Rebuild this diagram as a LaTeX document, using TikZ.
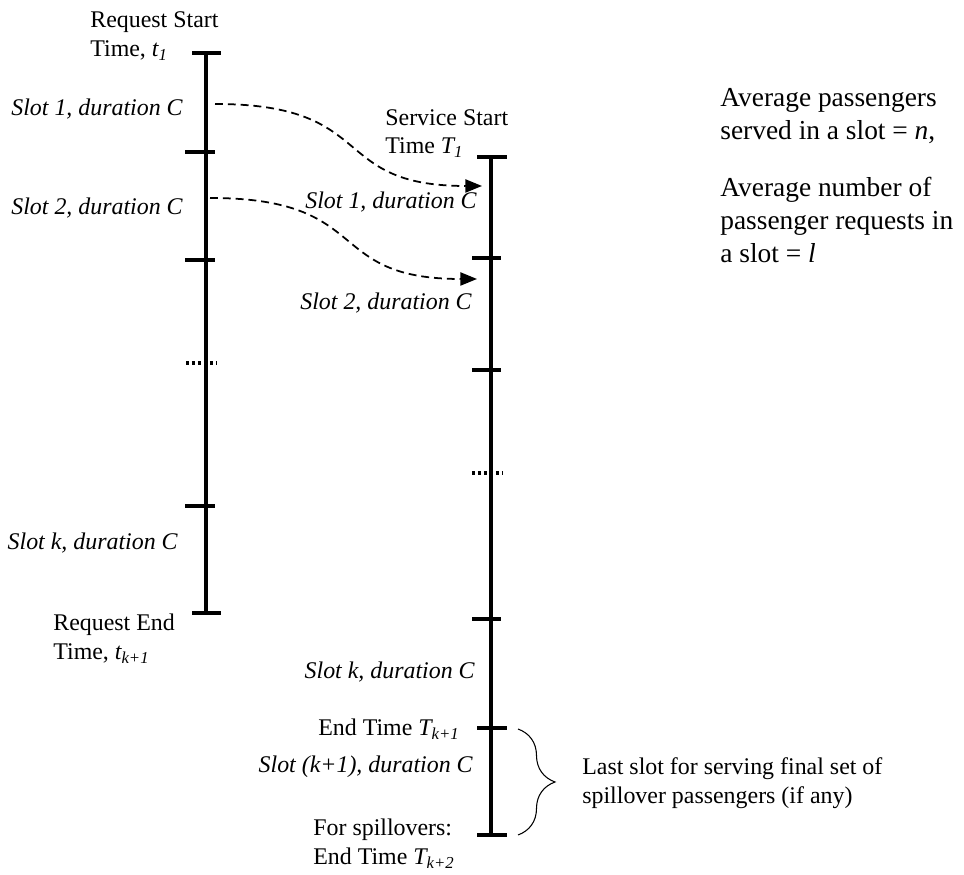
\documentclass[tikz,border=0pt]{standalone}
\usepackage{fontspec}
\setmainfont{Liberation Serif}
\usetikzlibrary{arrows.meta,decorations.pathreplacing}

\begin{document}
\begin{tikzpicture}[font=\fontsize{13.6}{16.5}\selectfont,
    timeline/.style={line width=2.2pt},
    tickmark/.style={line width=1.8pt},
    gap/.style={line width=1.8pt, dash pattern=on 1.7pt off 1.7pt},
    slot/.style={font=\fontsize{13.6}{16.5}\selectfont\itshape, inner sep=0pt, anchor=east},
    note/.style={align=left, inner sep=0pt, anchor=west},
    flow/.style={line width=1pt, dash pattern=on 4.5pt off 2.8pt, -{Triangle[length=9.5pt,width=7.5pt]}}]
    \useasboundingbox (0,0) rectangle (19.28,17.5);

    % Request timeline on left
    \coordinate (rtop) at (4.12,16.44);
    \coordinate (rbot) at (4.12,5.24);
    \draw[timeline] (rtop) -- (rbot);
    \foreach \y in {16.44,5.24} \draw[tickmark] (3.84,\y) -- (4.42,\y);
    \foreach \y in {14.46,12.30,7.38} \draw[tickmark] (3.70,\y) -- (4.30,\y);
    \draw[gap] (3.72,10.24) -- (4.34,10.24);

    \node[note] (reqstart) at (1.80,16.78) {Request Start\\Time, \textit{t\textsubscript{1}}};
    \node[slot] (rslot1) at (3.66,15.32) {Slot 1, duration C};
    \node[slot] (rslot2) at (3.66,13.34) {Slot 2, duration C};
    \node[slot] (rslotk) at (3.56,6.64) {Slot k, duration C};
    \node[note] (reqend) at (1.06,4.72) {Request End\\Time, \textit{t\textsubscript{k+1}}};

    % Service timeline on right
    \coordinate (stop) at (9.82,14.36);
    \coordinate (sbot) at (9.82,0.80);
    \draw[timeline] (stop) -- (sbot);
    \foreach \y in {14.36,2.94,0.80} \draw[tickmark] (9.54,\y) -- (10.14,\y);
    \foreach \y in {12.34,10.10,5.12} \draw[tickmark] (9.44,\y) -- (10.02,\y);
    \draw[gap] (9.44,8.04) -- (10.04,8.04);

    \node[note] (srvstart) at (7.70,14.83) {Service Start\\Time \textit{T\textsubscript{1}}};
    \node[slot] (sslot1) at (9.54,13.46) {Slot 1, duration C};
    \node[slot] (sslot2) at (9.44,11.44) {Slot 2, duration C};
    \node[slot] (sslotk) at (9.50,4.06) {Slot k, duration C};
    \node[anchor=east, inner sep=0pt] (endtime) at (9.20,2.92) {End Time \textit{T\textsubscript{k+1}}};
    \node[slot] (sslotk1) at (9.46,2.16) {Slot (k+1), duration C};
    \node[note] (spill) at (6.26,0.62) {For spillovers:\\End Time \textit{T\textsubscript{k+2}}};

    % requests carried over to service slots
    \coordinate (from1) at (4.30,15.42);
    \coordinate (to1) at (9.64,13.78);
    \coordinate (from2) at (4.20,13.54);
    \coordinate (to2) at (9.54,11.92);
    \draw[flow] (from1) .. controls +(3.3,0) and +(-3.1,0) .. (to1);
    \draw[flow] (from2) .. controls +(3.3,0) and +(-3.1,0) .. (to2);

    % last slot brace
    \coordinate (bracetop) at (10.36,2.92);
    \coordinate (bracebot) at (10.36,0.80);
    \draw[decorate, decoration={brace, amplitude=0.74cm}, line width=0.6pt] (bracetop) -- (bracebot);
    \node[note] (lastslot) at (11.64,1.84) {Last slot for serving final set of\\spillover passengers (if any)};

    % averages
    \node[note, font=\fontsize{15.6}{18.7}\selectfont] (served) at (14.40,15.17) {Average passengers\\served in a slot = \textit{n},};
    \node[note, font=\fontsize{15.6}{18.7}\selectfont] (requests) at (14.40,13.10) {Average number of\\passenger requests in\\a slot = \textit{l}};
\end{tikzpicture}
\end{document}
